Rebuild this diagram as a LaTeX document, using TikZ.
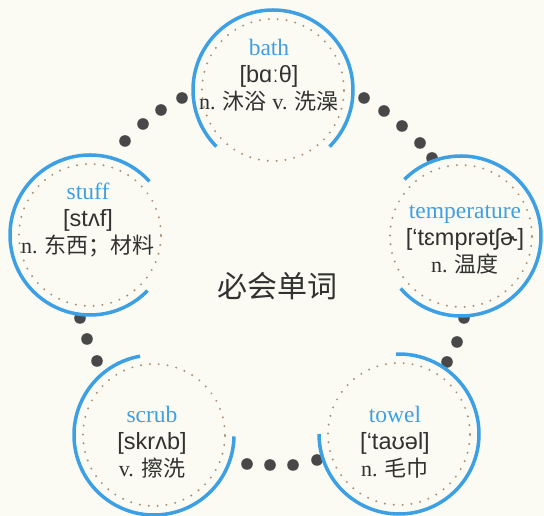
\documentclass[tikz,border=0pt]{standalone}
\usepackage{fontspec}
\setmainfont{Liberation Serif}
\setsansfont{Liberation Sans}
\newfontfamily\cjk{Noto Sans CJK SC}

\definecolor{beijing}{RGB}{251,251,243}
\definecolor{lanse}{RGB}{62,160,228}
\definecolor{huidian}{RGB}{172,145,118}
\definecolor{heidian}{RGB}{72,72,72}
\definecolor{zise}{RGB}{50,50,50}

\begin{document}
\begin{tikzpicture}[x=1pt,y=1pt,
    danci/.style={align=center,text=zise,font=\fontsize{23.5}{27}\selectfont},
    lanhu/.style={color=lanse,line width=3.5pt},
    xuxian/.style={color=huidian,line width=2.2pt,line cap=round,dash pattern=on 0pt off 8.9pt}]
    \useasboundingbox (0,0) rectangle (544,516);
    %背景
    \fill[beijing](0,0) rectangle(544,516);
    %五个圆的圆心
    \coordinate (bath) at (273,426);
    \coordinate (temperature) at (461,280);
    \coordinate (towel) at (399,82);
    \coordinate (scrub) at (154,81);
    \coordinate (stuff) at (90,281);
    %大圆点
    \draw[fill=heidian,draw=none](182,418) circle(5.8);
    \draw[fill=heidian,draw=none](161,406) circle(5.8);
    \draw[fill=heidian,draw=none](143,392) circle(5.8);
    \draw[fill=heidian,draw=none](125,375) circle(5.8);
    \draw[fill=heidian,draw=none](364,418) circle(5.8);
    \draw[fill=heidian,draw=none](384,405) circle(5.8);
    \draw[fill=heidian,draw=none](402,390) circle(5.8);
    \draw[fill=heidian,draw=none](420,373) circle(5.8);
    \draw[fill=heidian,draw=none](432,358) circle(5.8);
    \draw[fill=heidian,draw=none](464,198) circle(5.8);
    \draw[fill=heidian,draw=none](457,174) circle(5.8);
    \draw[fill=heidian,draw=none](447,154) circle(5.8);
    \draw[fill=heidian,draw=none](247,52) circle(5.8);
    \draw[fill=heidian,draw=none](270,51) circle(5.8);
    \draw[fill=heidian,draw=none](293,51) circle(5.8);
    \draw[fill=heidian,draw=none](317,56) circle(5.8);
    \draw[fill=heidian,draw=none](80,198) circle(5.8);
    \draw[fill=heidian,draw=none](87,177) circle(5.8);
    \draw[fill=heidian,draw=none](97,155) circle(5.8);
    %圆内底色，盖住一部分圆点
    \fill[beijing](bath) circle(79);
    \fill[beijing](temperature) circle(79);
    \fill[beijing](towel) circle(79);
    \fill[beijing](scrub) circle(79);
    \fill[beijing](stuff) circle(79);
    %点线圆
    \draw[xuxian](bath) circle(71);
    \draw[xuxian](temperature) circle(71);
    \draw[xuxian](towel) circle(71);
    \draw[xuxian](scrub) circle(71);
    \draw[xuxian](stuff) circle(71);
    %蓝色弧线
    \draw[lanhu](bath) ++(-45:80) arc(-45:225:80);
    \draw[lanhu](temperature) ++(-139:80) arc(-139:135:80);
    \draw[lanhu](towel) ++(-180:80) arc(-180:92:80);
    \draw[lanhu](scrub) ++(100:80) arc(100:359:80);
    \draw[lanhu](stuff) ++(42:80) arc(42:316:80);
    %单词
    \node[danci] (bathci) at (269,441) {{\color{lanse}bath}\\{\sffamily [bɑːθ]}\\{\fontsize{22}{27}\selectfont n. {\cjk 沐浴} v. {\cjk 洗澡}}};
    \node[danci] (temperatureci) at (465,276) {{\color{lanse}temperature}\\{\sffamily [‘tɛmprətʃɚ]}\\{\fontsize{22}{27}\selectfont n. {\cjk 温度}}};
    \node[danci] (towelci) at (395,74) {{\color{lanse}towel}\\{\sffamily [‘taʊəl]}\\{\fontsize{22}{27}\selectfont n. {\cjk 毛巾}}};
    \node[danci] (scrubci) at (152,74) {{\color{lanse}scrub}\\{\sffamily [skrʌb]}\\{\fontsize{22}{27}\selectfont v. {\cjk 擦洗}}};
    \node[danci] (stuffci) at (88,296) {{\color{lanse}stuff}\\{\sffamily [stʌf]}\\{\fontsize{22}{27}\selectfont n. {\cjk 东西；材料}}};
    %中间标题
    \node[text=zise,font=\cjk\fontsize{30}{30}\selectfont] (biaoti) at (277,230) {必会单词};
\end{tikzpicture}
\end{document}
